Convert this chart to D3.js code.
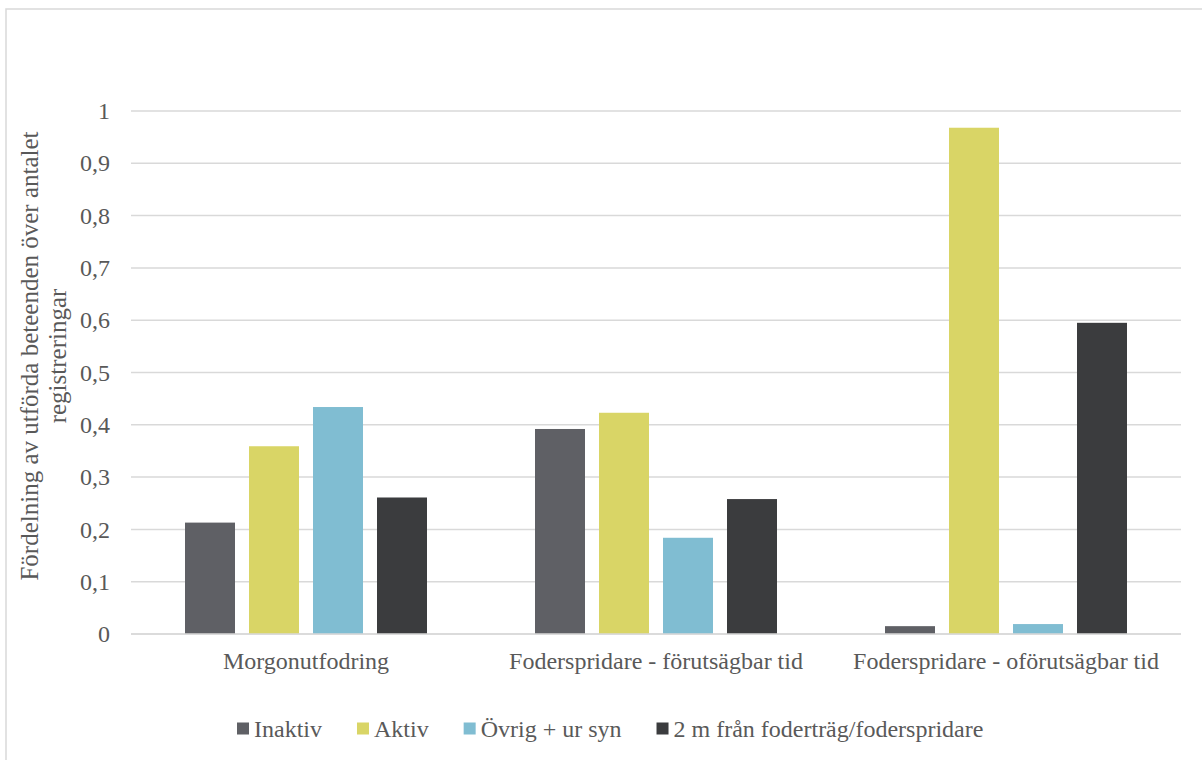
<!DOCTYPE html>
<html><head><meta charset="utf-8">
<script src="https://cdn.jsdelivr.net/npm/d3@7"></script>
<style>body{margin:0;background:#fff}svg{display:block}
svg text{font-family:"Liberation Serif","Times New Roman",Times,serif !important;}</style>
</head><body>
<svg id="c" width="1202" height="760"></svg>
<script>
const categories = ["Morgonutfodring", "Foderspridare - förutsägbar tid", "Foderspridare - oförutsägbar tid"];
const seriesNames = ["Inaktiv", "Aktiv", "Övrig + ur syn", "2 m från foderträg/foderspridare"];
const seriesColors = ["#5f6065", "#d9d566", "#80bdd2", "#3b3c3e"];
const inaktiv = [0.213, 0.392, 0.015];
const aktiv = [0.359, 0.423, 0.968];
const ovrig = [0.434, 0.184, 0.019];
const tvaMeter = [0.261, 0.258, 0.595];
const yTicks = [0, 0.1, 0.2, 0.3, 0.4, 0.5, 0.6, 0.7, 0.8, 0.9, 1];
const yTitle = ["Fördelning av utförda beteenden över antalet", "registreringar"];

(function () {
const series = [inaktiv, aktiv, ovrig, tvaMeter];
const fs = 24;
const textCol = "#595959";
const gridCol = "#d9d9d9";

const svg = d3.select("#c");
svg.append("rect").attr("x", 6).attr("y", 9).attr("width", 1210).attr("height", 770)
  .attr("fill", "none").attr("stroke", gridCol).attr("stroke-width", 1.5);

const pLeft = 131, pRight = 1181, pTop = 111, pBottom = 634;
const y = d3.scaleLinear().domain([0, 1]).range([pBottom, pTop]);
const x0 = d3.scaleBand().domain(categories).range([pLeft, pRight]).padding(0);
const x1 = d3.scaleBand().domain(d3.range(seriesNames.length))
  .range([54, x0.bandwidth() - 54]).paddingInner(14 / 64).paddingOuter(0);

// gridlines
svg.append("g").selectAll("line").data(yTicks).join("line")
  .attr("x1", pLeft).attr("x2", pRight)
  .attr("y1", d => y(d)).attr("y2", d => y(d))
  .attr("stroke", gridCol).attr("stroke-width", 1.5);

// y axis labels
const yAxis = d3.axisLeft(y).tickValues(yTicks).tickSize(0).tickPadding(0)
  .tickFormat(d => d === 0 ? "0" : d === 1 ? "1" : d.toFixed(1).replace(".", ","));
const ya = svg.append("g").attr("transform", "translate(110,0)").call(yAxis);
ya.attr("font-family", null).attr("font-size", null);
ya.select(".domain").remove();
ya.selectAll("text").attr("font-size", fs).attr("fill", textCol).attr("dy", "0.32em");

// bars
const groups = svg.append("g").selectAll("g").data(categories).join("g")
  .attr("transform", d => `translate(${x0(d)},0)`);
groups.selectAll("rect").data((c, ci) => series.map((s, si) => ({si, v: s[ci]}))).join("rect")
  .attr("x", d => x1(d.si)).attr("width", x1.bandwidth())
  .attr("y", d => y(d.v)).attr("height", d => y(0) - y(d.v))
  .attr("fill", d => seriesColors[d.si]);

// baseline
svg.append("line").attr("x1", pLeft).attr("x2", pRight).attr("y1", y(0)).attr("y2", y(0))
  .attr("stroke", gridCol).attr("stroke-width", 1.5);

// x axis labels
const xAxis = d3.axisBottom(x0).tickSize(0).tickPadding(0);
const xa = svg.append("g").attr("transform", "translate(0,669)").call(xAxis);
xa.attr("font-family", null).attr("font-size", null);
xa.select(".domain").remove();
xa.selectAll("text").attr("font-size", fs).attr("fill", textCol).attr("dy", 0);

// y title
const yt = svg.append("text").attr("transform", "translate(38,356) rotate(-90)")
  .attr("text-anchor", "middle").attr("font-size", 25).attr("fill", textCol);
yTitle.forEach((t, i) => yt.append("tspan").attr("x", 0).attr("y", i * 28).text(t));

// legend
const lg = svg.append("g");
let lx = 237;
seriesNames.forEach((n, i) => {
  lg.append("rect").attr("x", lx).attr("y", 722.5).attr("width", 12).attr("height", 12).attr("fill", seriesColors[i]);
  const t = lg.append("text").attr("x", lx + 17).attr("y", 736.5)
    .attr("font-size", fs).attr("fill", textCol).text(n);
  lx += 17 + t.node().getComputedTextLength() + 35;
});
})();
</script>
</body></html>
